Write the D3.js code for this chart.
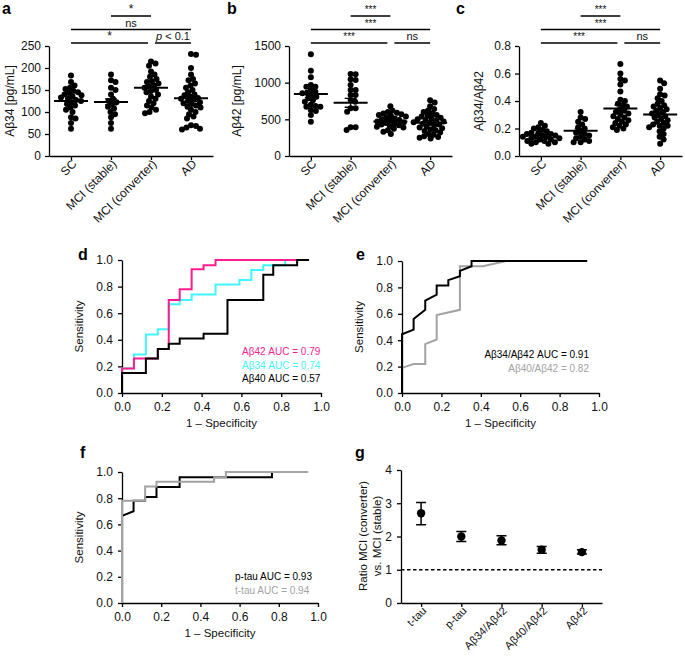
<!DOCTYPE html>
<html>
<head>
<meta charset="utf-8">
<script src="https://cdn.jsdelivr.net/npm/d3@7"></script>
<style>
body{margin:0;background:#fff}
svg{font-family:"Liberation Sans",Arial,sans-serif}
</style>
</head>
<body>
<svg id="fig" width="685" height="658"></svg>
<script>
var groups = ["SC", "MCI (stable)", "MCI (converter)", "AD"];

// a: Aβ34 [pg/mL]
var ab34Sc = [183,168,160,155,152,148,145,143,140,138,135,133,130,127,125,122,118,115,110,105,100,88,85,75,62];
var ab34Stable = [185,172,168,155,150,140,130,125,122,118,112,108,100,95,88,75,62];
var ab34Conv = [215,210,205,192,185,180,175,170,168,165,160,158,155,150,148,145,140,135,130,125,120,115,110,105,100,97];
var ab34Ad = [232,230,200,185,175,172,165,160,155,150,145,140,138,135,132,130,128,125,122,120,118,115,112,110,105,100,95,90,85,70,68,65,62,60];
var ab34Mean = [125,123,155,131];
var ab34Sem = [6,7,6,7];

// b: Aβ42 [pg/mL]
var ab42Sc = [1386,1164,1073,968,945,945,900,877,855,855,832,809,786,760,740,700,682,673,673,627,614,560,468];
var ab42Stable = [1118,1114,1045,1036,968,900,900,832,832,764,741,650,650,605,391,391,355];
var ab42Conv = [680,620,600,590,580,570,560,550,540,520,510,500,490,480,470,460,450,440,430,420,410,400,390,370,350,330,300];
var ab42Ad = [760,730,680,640,620,600,580,560,550,540,520,510,500,490,480,470,460,450,440,430,420,400,390,380,360,350,340,320,300,290,270,260,250,240];
var ab42Mean = [845,725,470,455];
var ab42Sem = [45,60,18,20];

// c: Aβ34/Aβ42
var ratioSc = [0.24,0.22,0.21,0.2,0.19,0.18,0.17,0.17,0.16,0.16,0.15,0.15,0.14,0.14,0.14,0.13,0.13,0.12,0.12,0.11,0.11,0.1,0.1,0.09,0.09];
var ratioStable = [0.32,0.28,0.27,0.25,0.23,0.21,0.2,0.18,0.17,0.16,0.15,0.14,0.13,0.12,0.11,0.1,0.1];
var ratioConv = [0.67,0.6,0.56,0.55,0.52,0.47,0.41,0.4,0.38,0.37,0.36,0.34,0.33,0.32,0.31,0.3,0.29,0.28,0.27,0.26,0.25,0.24,0.23,0.22,0.21,0.2,0.19];
var ratioAd = [0.55,0.53,0.49,0.45,0.44,0.42,0.4,0.38,0.37,0.36,0.35,0.34,0.33,0.32,0.31,0.3,0.29,0.28,0.27,0.26,0.25,0.24,0.23,0.22,0.22,0.21,0.2,0.18,0.16,0.14,0.12,0.09];
var ratioMean = [0.152,0.183,0.345,0.302];
var ratioSem = [0.008,0.015,0.025,0.018];

// significance: [from, to, level, label]
var sigA = [[1,2,0,"*"],[0,3,1,"ns"],[0,2,2,"*"],[2,3,2,"p < 0.1"]];
var sigBC = [[1,2,0,"***"],[0,3,1,"***"],[0,2,2,"***"],[2,3,2,"ns"]];

// ROC curves [1 - specificity, sensitivity]
var rocAb42 = [[0,0],[0,0.185],[0.06,0.185],[0.06,0.26],[0.18,0.26],[0.18,0.33],[0.235,0.33],[0.235,0.70],[0.29,0.70],[0.29,0.78],[0.35,0.78],[0.35,0.93],[0.41,0.93],[0.41,0.96],[0.47,0.96],[0.47,1],[0.88,1]];
var rocAb34 = [[0,0],[0,0.185],[0.06,0.185],[0.06,0.29],[0.12,0.29],[0.12,0.44],[0.18,0.44],[0.18,0.48],[0.235,0.48],[0.235,0.667],[0.29,0.667],[0.29,0.70],[0.35,0.70],[0.35,0.74],[0.47,0.74],[0.47,0.815],[0.59,0.815],[0.59,0.85],[0.65,0.85],[0.65,0.925],[0.71,0.925],[0.71,0.96],[0.82,0.96],[0.82,1],[0.88,1]];
var rocAb40 = [[0,0],[0,0.15],[0.12,0.15],[0.12,0.26],[0.18,0.26],[0.18,0.33],[0.235,0.33],[0.235,0.37],[0.29,0.37],[0.29,0.41],[0.41,0.41],[0.41,0.445],[0.53,0.445],[0.53,0.70],[0.71,0.70],[0.71,0.89],[0.76,0.89],[0.76,0.96],[0.88,0.96],[0.88,1],[0.94,1]];
var roc3442 = [[0,0],[0,0.445],[0.059,0.48],[0.059,0.56],[0.118,0.63],[0.118,0.70],[0.176,0.745],[0.176,0.815],[0.235,0.815],[0.235,0.855],[0.294,0.885],[0.294,0.925],[0.353,0.96],[0.353,1],[0.94,1]];
var roc4042 = [[0,0],[0,0.19],[0.059,0.22],[0.118,0.22],[0.118,0.37],[0.176,0.405],[0.176,0.59],[0.294,0.63],[0.294,0.96],[0.41,0.96],[0.53,1],[0.94,1]];
var rocPtau = [[0,0],[0,0.665],[0.059,0.70],[0.059,0.78],[0.118,0.78],[0.118,0.81],[0.176,0.81],[0.176,0.885],[0.294,0.885],[0.294,0.96],[0.765,0.96],[0.765,1],[0.94,1]];
var rocTtau = [[0,0],[0,0.78],[0.118,0.78],[0.118,0.89],[0.176,0.89],[0.176,0.925],[0.47,0.925],[0.47,0.96],[0.53,0.96],[0.53,1],[0.95,1]];

// g: ratio MCI (converter) vs MCI (stable)
var gLabels = ["t-tau","p-tau","Aβ34/Aβ42","Aβ40/Aβ42","Aβ42"];
var gRatio = [2.7,2.0,1.88,1.6,1.53];
var gLow = [2.35,1.85,1.75,1.5,1.47];
var gHigh = [3.02,2.15,2.02,1.7,1.6];

var PINK = "#ff1c8e", CYAN = "#3ff6ff", GREY = "#a3a3a3";
var svg = d3.select("#fig");

function styleAxis(g) {
    g.selectAll("path,line").attr("stroke","#000").attr("stroke-width",1.3);
    g.selectAll("text").attr("font-size",12).attr("fill","#111");
}

// simple beeswarm: shift each dot sideways until it only overlaps a little
function swarm(vals, y, r) {
    var pts = vals.map(function(v){ return {py: y(v), dx: 0}; }).sort(function(a,b){ return a.py - b.py; });
    var placed = [], d2 = (1.55*r)*(1.55*r);
    pts.forEach(function(p) {
        for (var k = 0; k < 400; k++) {
            var off = (k % 2 ? 1 : -1) * Math.ceil(k/2) * 0.5;
            var hit = placed.some(function(q){ var a = q.dx-off, b = q.py-p.py; return a*a+b*b < d2; });
            if (!hit) { p.dx = off; break; }
        }
        placed.push(p);
    });
    return pts;
}

function panelLetter(t, x, y) {
    svg.append("text").attr("x",x).attr("y",y).text(t)
        .attr("font-size",16).attr("font-weight","bold").attr("fill","#000");
}

function scatterPanel(p) {
    var x = d3.scalePoint().domain(groups).range([p.x0, p.x1]).padding(0.55);
    var y = d3.scaleLinear().domain([0, p.ymax]).range([156, 46]);
    var g = svg.append("g");

    g.append("g").attr("transform","translate("+p.x0+",0)")
        .call(d3.axisLeft(y).tickValues(p.ticks).tickFormat(p.fmt).tickSize(4).tickSizeOuter(0).tickPadding(4))
        .call(styleAxis);
    var ax = g.append("g").attr("transform","translate(0,156)")
        .call(d3.axisBottom(x).tickSize(4).tickSizeOuter(0))
        .call(styleAxis);
    ax.selectAll("text").attr("text-anchor","end").attr("x",-2).attr("y",6)
        .attr("dy","0.35em").attr("transform","rotate(-45)");

    g.append("text").attr("transform","translate("+p.labelX+",101) rotate(-90)")
        .attr("text-anchor","middle").attr("font-size",12).attr("fill","#111").text(p.ylabel);

    p.data.forEach(function(vals, i) {
        var cx = x(groups[i]);
        g.append("g").selectAll("circle").data(swarm(vals, y, 3)).join("circle")
            .attr("cx", function(d){ return cx + d.dx; }).attr("cy", function(d){ return d.py; })
            .attr("r", 3).attr("fill","#000");
        var m = p.mean[i], s = p.sem[i];
        g.append("line").attr("x1",cx-17).attr("x2",cx+17).attr("y1",y(m)).attr("y2",y(m))
            .attr("stroke","#000").attr("stroke-width",2);
        g.append("path").attr("d","M"+(cx-6)+","+y(m+s)+"H"+(cx+6)+"M"+cx+","+y(m+s)+"V"+y(m-s)+"M"+(cx-6)+","+y(m-s)+"H"+(cx+6))
            .attr("stroke","#000").attr("stroke-width",1.3).attr("fill","none");
    });

    p.sig.forEach(function(c) {
        var x1 = x(groups[c[0]]), x2 = x(groups[c[1]]), ly = 16 + c[2]*13.5;
        p.sig.forEach(function(o) {
            if (o !== c && o[2] === c[2]) {
                if (o[0] === c[1]) x2 -= 3;
                if (o[1] === c[0]) x1 += 4;
            }
        });
        g.append("line").attr("x1",x1).attr("x2",x2).attr("y1",ly).attr("y2",ly)
            .attr("stroke","#000").attr("stroke-width",1.3);
        var t = g.append("text").attr("x",(x1+x2)/2).attr("y", ly-3).attr("text-anchor","middle").attr("fill","#111");
        if (c[3] === "p < 0.1") {
            t.attr("font-size",11);
            t.append("tspan").attr("font-style","italic").text("p");
            t.append("tspan").text(" < 0.1");
        } else if (c[3] === "ns") {
            t.attr("font-size",11).text("ns");
        } else {
            t.attr("font-size",c[3].length > 1 ? 10 : 12).text(c[3]);
        }
    });
}

scatterPanel({x0:49, x1:213, ymax:250, ticks:[0,50,100,150,200,250], fmt:d3.format("d"),
    data:[ab34Sc,ab34Stable,ab34Conv,ab34Ad], mean:ab34Mean, sem:ab34Sem, sig:sigA, ylabel:"Aβ34 [pg/mL]", labelX:14});
scatterPanel({x0:289, x1:452, ymax:1500, ticks:[0,500,1000,1500], fmt:d3.format("d"),
    data:[ab42Sc,ab42Stable,ab42Conv,ab42Ad], mean:ab42Mean, sem:ab42Sem, sig:sigBC, ylabel:"Aβ42 [pg/mL]", labelX:241});
scatterPanel({x0:519, x1:682, ymax:0.8, ticks:[0,0.2,0.4,0.6,0.8], fmt:d3.format(".1f"),
    data:[ratioSc,ratioStable,ratioConv,ratioAd], mean:ratioMean, sem:ratioSem, sig:sigBC, ylabel:"Aβ34/Aβ42", labelX:483});

panelLetter("a", 2, 14);
panelLetter("b", 227, 14);
panelLetter("c", 456, 14);

function rocPanel(p) {
    var x = d3.scaleLinear().domain([0,1]).range([p.x0, p.x1]);
    var y = d3.scaleLinear().domain([0,1]).range([p.y0, p.y1]);
    var g = svg.append("g");
    var tv = [0,0.2,0.4,0.6,0.8,1];
    g.append("g").attr("transform","translate(0,"+p.y0+")")
        .call(d3.axisBottom(x).tickValues(tv).tickFormat(d3.format(".1f")).tickSize(4).tickSizeOuter(0).tickPadding(5))
        .call(styleAxis);
    g.append("g").attr("transform","translate("+p.x0+",0)")
        .call(d3.axisLeft(y).tickValues(tv).tickFormat(d3.format(".1f")).tickSize(4).tickSizeOuter(0).tickPadding(5))
        .call(styleAxis);
    g.append("text").attr("transform","translate("+(p.x0-39)+","+((p.y0+p.y1)/2)+") rotate(-90)")
        .attr("text-anchor","middle").attr("font-size",11.5).attr("fill","#111").text("Sensitivity");
    g.append("text").attr("x",(p.x0+p.x1)/2).attr("y",p.y0+34)
        .attr("text-anchor","middle").attr("font-size",11.5).attr("fill","#111").text("1 – Specificity");
    var line = d3.line().x(function(d){ return x(d[0]); }).y(function(d){ return y(d[1]); });
    p.curves.forEach(function(c) {
        g.append("path").datum(c.pts).attr("d", line).attr("fill","none")
            .attr("stroke", c.color).attr("stroke-width", 2);
    });
    p.legend.forEach(function(l, i) {
        g.append("text").attr("x", p.lx).attr("y", p.ly + i*13.5).attr("text-anchor", p.anchor)
            .attr("font-size",10).attr("fill", l[1]).text(l[0]);
    });
}

rocPanel({x0:122, x1:321, y0:393, y1:260,
    curves:[{pts:rocAb34, color:CYAN},{pts:rocAb42, color:PINK},{pts:rocAb40, color:"#000"}],
    legend:[["Aβ42 AUC = 0.79",PINK],["Aβ34 AUC = 0.74",CYAN],["Aβ40 AUC = 0.57","#000"]],
    lx:242, ly:355, anchor:"start"});
rocPanel({x0:402, x1:599, y0:393, y1:261,
    curves:[{pts:roc4042, color:GREY},{pts:roc3442, color:"#000"}],
    legend:[["Aβ34/Aβ42 AUC = 0.91","#000"],["Aβ40/Aβ42 = 0.82",GREY]],
    lx:589, ly:358, anchor:"end"});
rocPanel({x0:122, x1:318, y0:603, y1:472,
    curves:[{pts:rocPtau, color:"#000"},{pts:rocTtau, color:GREY}],
    legend:[["p-tau AUC = 0.93","#000"],["t-tau AUC = 0.94",GREY]],
    lx:235, ly:580, anchor:"start"});

panelLetter("d", 78, 260);
panelLetter("e", 356, 260);
panelLetter("f", 80, 458);

// g
(function() {
    var x = d3.scalePoint().domain(gLabels).range([401, 602]).padding(0.5);
    var y = d3.scaleLinear().domain([0,4]).range([603, 470]);
    var g = svg.append("g");
    g.append("g").attr("transform","translate(401,0)")
        .call(d3.axisLeft(y).ticks(4).tickFormat(d3.format("d")).tickSize(4).tickSizeOuter(0).tickPadding(5))
        .call(styleAxis);
    var ax = g.append("g").attr("transform","translate(0,603)")
        .call(d3.axisBottom(x).tickSize(4).tickSizeOuter(0))
        .call(styleAxis);
    ax.selectAll("text").attr("font-size",11).attr("text-anchor","end").attr("x",-2).attr("y",6)
        .attr("dy","0.35em").attr("transform","rotate(-45)");
    g.append("line").attr("x1",401).attr("x2",602).attr("y1",y(1)).attr("y2",y(1))
        .attr("stroke","#000").attr("stroke-width",1.5).attr("stroke-dasharray","3.5,2.5");
    var yl = g.append("text").attr("transform","translate(370,536) rotate(-90)")
        .attr("text-anchor","middle").attr("font-size",11.5).attr("fill","#111");
    yl.append("tspan").attr("x",0).attr("y",-3).text("Ratio MCI (converter)");
    yl.append("tspan").attr("x",0).attr("y",11).text("vs. MCI (stable)");
    gLabels.forEach(function(l, i) {
        var cx = x(l);
        g.append("path").attr("d","M"+(cx-5)+","+y(gHigh[i])+"H"+(cx+5)+"M"+cx+","+y(gHigh[i])+"V"+y(gLow[i])+"M"+(cx-5)+","+y(gLow[i])+"H"+(cx+5))
            .attr("stroke","#000").attr("stroke-width",1.5).attr("fill","none");
        g.append("circle").attr("cx",cx).attr("cy",y(gRatio[i])).attr("r",4.2).attr("fill","#000");
    });
})();
panelLetter("g", 355, 458);
</script>
</body>
</html>
